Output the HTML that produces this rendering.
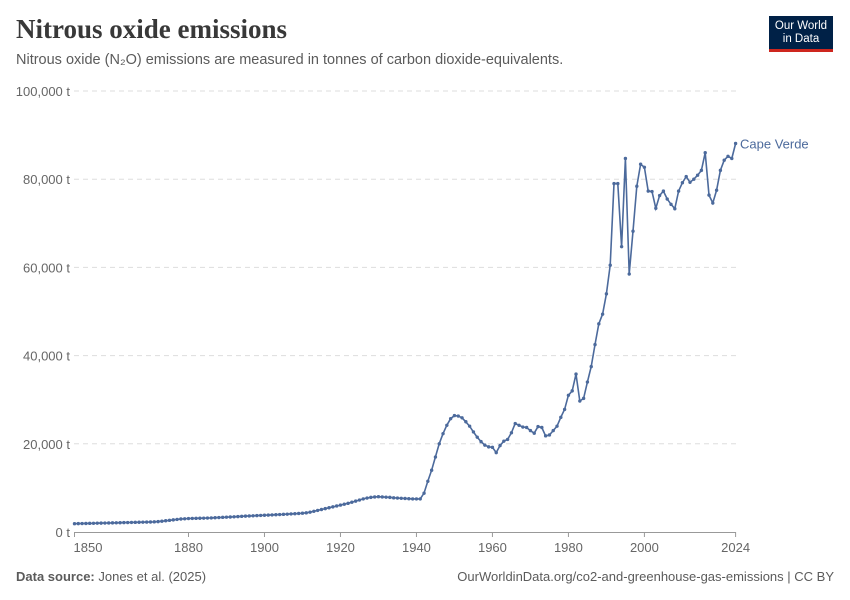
<!DOCTYPE html>
<html><head><meta charset="utf-8"><style>
body{margin:0;background:#fff;font-family:"Liberation Sans",sans-serif;}
#wrap{position:relative;width:850px;height:600px;overflow:hidden;}
</style></head><body>
<div id="wrap">
<div style="position:absolute;left:16px;top:14px;font-family:'Liberation Serif',serif;font-size:27px;font-weight:bold;color:#383838;">Nitrous oxide emissions</div>
<div style="position:absolute;left:16px;top:52px;font-size:14.5px;color:#5b5b5b;">Nitrous oxide (N₂O) emissions are measured in tonnes of carbon dioxide-equivalents.</div>
<div style="position:absolute;left:769px;top:16px;width:64px;height:36px;background:#002147;border-bottom:3px solid #ce261e;color:#fff;font-size:11.5px;line-height:13px;text-align:center;padding-top:4px;box-sizing:border-box;">Our World<br>in Data</div>
<svg id="chart" width="850" height="600" style="position:absolute;left:0;top:0;"></svg>
<div style="position:absolute;left:16px;top:569px;font-size:13px;color:#5b5b5b;"><b>Data source:</b> Jones et al. (2025)</div>
<div style="position:absolute;right:16px;top:569px;font-size:13px;color:#5b5b5b;">OurWorldinData.org/co2-and-greenhouse-gas-emissions | CC BY</div>
</div>
<script>
const early=[1880,1900,1920,1940,1960,1980,2000,2010,2030,2050,2070,2090,2110,2130,2150,2170,2190,2210,2230,2250,2270,2300,2350,2450,2550,2650,2750,2850,2950,3000,3050,3080,3100,3120,3140,3170,3200,3240,3280,3320,3360,3400,3450,3500,3550,3600,3640,3680,3720,3760,3800,3840,3880,3920,3960,4000,4050,4100,4150,4200,4260,4350,4500,4700,4900,5100,5300,5500,5700,5900,6100,6300,6500,6750,7000,7250,7500,7700,7850,7950,8000,7950,7900,7850,7750,7700,7650,7600,7550,7500,7500,7500];
const later=[8800,11500,14000,17000,20000,22300,24200,25700,26400,26300,25900,25000,24000,22700,21500,20500,19700,19300,19200,18000,19600,20600,21000,22500,24600,24200,23800,23700,23000,22400,23900,23700,21800,22000,23000,24000,26000,27800,31000,32000,35800,29700,30300,34000,37500,42500,47200,49400,54000,60500,79000,79000,64700,84700,58500,68200,78400,83400,82700,77300,77200,73400,76300,77300,75500,74300,73300,77300,79200,80600,79300,80000,80900,82000,86000,76400,74600,77500,82000,84300,85200,84700,88100];
const values=early.concat(later);
const years=values.map((v,i)=>2024-(values.length-1-i));
const yTicks=[0,20000,40000,60000,80000,100000];
const yTickLabels=["0 t","20,000 t","40,000 t","60,000 t","80,000 t","100,000 t"];
const xTicks=[1850,1880,1900,1920,1940,1960,1980,2000,2024];
const NS="http://www.w3.org/2000/svg";
const svg=document.getElementById('chart');
const x=y=>74.5+(y-1850)*(735.6-74.5)/174;
const yS=v=>532-v*441/100000;
function mk(t,a,p){const e=document.createElementNS(NS,t);for(const k in a)e.setAttribute(k,a[k]);(p||svg).appendChild(e);return e;}
yTicks.forEach((v,i)=>{
 if(v>0){const g=mk('line',{x1:74,x2:736,y1:yS(v),y2:yS(v),stroke:'#ddd','stroke-dasharray':'5,4'});
 
 }
 const t=mk('text',{x:70,y:yS(v)+5,'text-anchor':'end','font-size':13,fill:'#666','font-family':'Liberation Sans'});
 t.textContent=yTickLabels[i];
 
 
});
const ax=mk('line',{x1:74,x2:736,y1:532.5,y2:532.5,stroke:'#999'});


xTicks.forEach(yr=>{
 mk('line',{x1:x(yr),x2:x(yr),y1:532,y2:537,stroke:'#999'});
 const lx=yr===1850?88:x(yr);
 const t=mk('text',{x:lx,y:552,'text-anchor':'middle','font-size':13,fill:'#666','font-family':'Liberation Sans'});
 t.textContent=yr;
 
 
});
const pts=values.map((v,i)=>x(years[i]).toFixed(1)+','+yS(v).toFixed(1)).join(' ');
const pl=mk('polyline',{points:pts,fill:'none',stroke:'#4c6a9c','stroke-width':1.6});


values.forEach((v,i)=>{
 const c=mk('circle',{cx:x(years[i]),cy:yS(v),r:1.7,fill:'#4c6a9c'});
 
 
});
const lab=mk('text',{x:740,y:yS(values[values.length-1])+5,'font-size':13,fill:'#4c6a9c','font-family':'Liberation Sans'});
lab.textContent='Cape Verde';


</script>
</body></html>
